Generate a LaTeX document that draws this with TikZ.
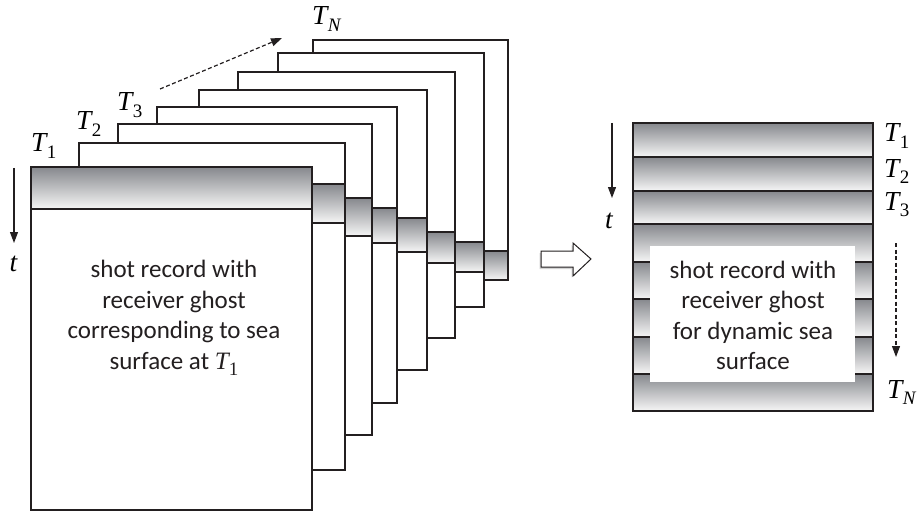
\documentclass[tikz,border=0pt]{standalone}
\usepackage{fontspec}
\setmainfont{Carlito}
\newfontfamily\timesfam{Liberation Serif}
\usetikzlibrary{arrows.meta}
\definecolor{linec}{RGB}{35,31,32}
\definecolor{bandtop}{RGB}{134,136,141}
\definecolor{bandmid}{RGB}{162,163,167}
\definecolor{bandbot}{RGB}{246,246,246}
\definecolor{txtc}{RGB}{35,31,32}
\newcommand\Tlab[1]{{\timesfam\itshape T}\kern0.01em\raisebox{-0.24em}{\timesfam\fontsize{19}{19}\selectfont #1}}
\begin{document}
\begin{tikzpicture}[x=1pt,y=-1pt,
  sheet/.style={draw=linec,line width=1.2pt,fill=white},
  band/.style={draw=linec,line width=1.2pt,top color=bandtop,middle color=bandmid,bottom color=bandbot},
  tlabel/.style={inner sep=0pt,anchor=base west,text=black,font=\timesfam\fontsize{27.5}{27.5}\selectfont},
  body/.style={inner sep=0pt,align=center,text=txtc,font=\fontsize{25}{30.5}\selectfont},
  timearrow/.style={draw=linec,line width=1.1pt,-{Triangle[length=11pt,width=8pt]}},
  dasharrow/.style={draw=linec,line width=1.2pt,dash pattern=on 4pt off 2.5pt,-{Triangle[length=11pt,width=8pt]}}]
\useasboundingbox (0,0) rectangle (917,513);
% left stack of sheets, back to front
\foreach \l/\t/\r/\b/\bt/\bb in {313/40/508/280/251/280, 278/53/484/307/242/272, 238/72/455/338/232/263,
  199/90/427/370/218/252, 157/107/397/403/208/243, 118/124/372/435/198/236, 79/143/345/470/184/223}{
  \draw[sheet] (\l,\t) rectangle (\r,\b);
  \draw[band] (\l,\bt) rectangle (\r,\bb);
}
\draw[sheet,line width=1.5pt] (31,167) rectangle (312,510);
\draw[band,line width=1.5pt] (31,167) rectangle (312,209);
\draw[linec,line width=1.5pt] (31,167) rectangle (312,510);
% labels
\node[tlabel] (t1) at (31,152) {\Tlab{1}};
\node[tlabel] (t2) at (76,130) {\Tlab{2}};
\node[tlabel] (t3) at (117,111) {\Tlab{3}};
\node[tlabel] (tn) at (312,25) {\Tlab{\itshape N}};
\coordinate (da) at (160,89);
\coordinate (db) at (282,38);
\draw[dasharrow] (da) -- (db);
\coordinate (ta) at (14,168);
\coordinate (tb) at (14,243);
\draw[timearrow] (ta) -- (tb);
\node[tlabel] (tt) at (9.5,271) {\itshape t};
\node[body] (lefttext) at (174,318) {shot record with\\receiver ghost\\corresponding to sea\\surface at \Tlab{1}};
% hollow arrow
\fill[black!35,opacity=0.5] (539.5,253) -- (571.5,253) -- (571.5,245) -- (589,261) -- (571.5,277.5) -- (571.5,269) -- (539.5,269) -- cycle;
\draw[linec,line width=1pt,fill=white] (541,251) -- (573,251) -- (573,243) -- (591,259) -- (573,276) -- (573,267) -- (541,267) -- cycle;
% right panel
\foreach \a/\b in {123/157,157/191,191/224,224/262,262/299,299/337,337/374,374/411}{
  \draw[band] (633,\a) rectangle (873,\b);
}
\draw[linec,line width=1.3pt] (633,123) rectangle (873,411);
\fill[white] (650,246) rectangle (855,382);
\node[body] (righttext) at (753,315.5) {shot record with\\receiver ghost\\for dynamic sea\\surface};
\coordinate (rta) at (612,123);
\coordinate (rtb) at (612,198);
\draw[timearrow] (rta) -- (rtb);
\node[tlabel] (rt) at (605,228) {\itshape t};
\node[tlabel] (r1) at (884,142) {\Tlab{1}};
\node[tlabel] (r2) at (884,177) {\Tlab{2}};
\node[tlabel] (r3) at (884,210) {\Tlab{3}};
\node[tlabel] (rn) at (887,398) {\Tlab{\itshape N}};
\coordinate (rda) at (896,243);
\coordinate (rdb) at (896,357);
\draw[dasharrow] (rda) -- (rdb);
\end{tikzpicture}
\end{document}
